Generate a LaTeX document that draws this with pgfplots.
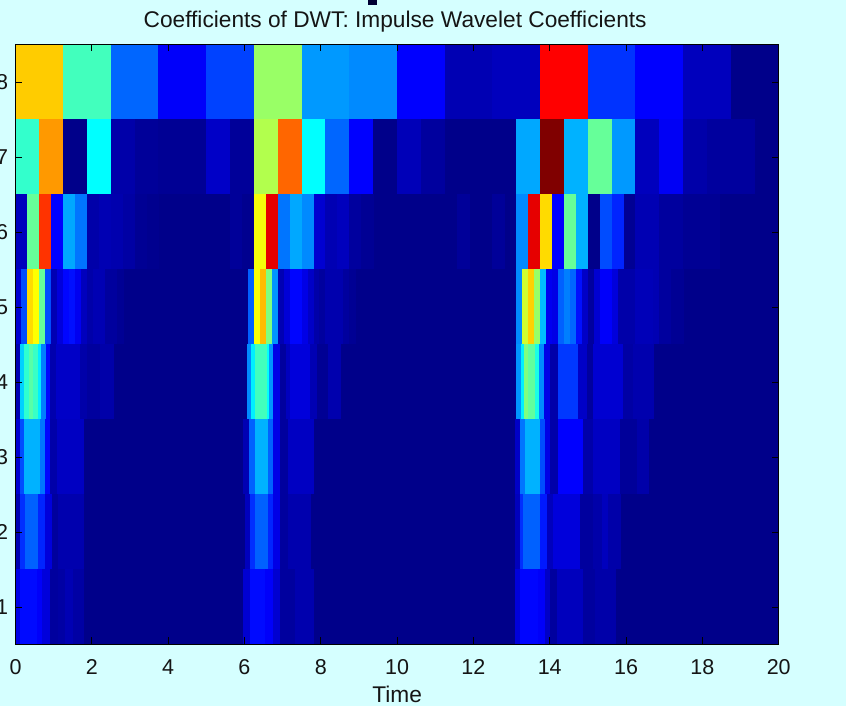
\documentclass[border=0pt]{standalone}
\usepackage{pgfplots}
\usepackage{pgfplotstable}
\usepackage{fontspec}
\setmainfont{Liberation Sans}
\pgfplotsset{compat=1.18}
\definecolor{pagebg}{HTML}{D5FFFF}
\definecolor{txt}{HTML}{151515}

% one coloured cell of the scalogram: left edge at the point, one level high
\pgfdeclareplotmark{cell}{%
  \pgfpathrectangle{\pgfpoint{0pt}{-37.5pt}}{\pgfpoint{\cellw pt}{75pt}}%
  \pgfusepathqfillstroke}

% x = left edge, w = cell width (both in time), c = coefficient 0..1
\pgfplotstableread{
x w c
0 1.25 .675
1.25 1.25 .44
2.5 1.25 .225
3.75 1.25 .12
5 1.25 .19
6.25 1.25 .525
7.5 1.25 .275
8.75 1.25 .26
10 1.25 .125
11.25 1.25 .05
12.5 1.25 .06
13.75 1.25 .875
15 1.25 .175
16.25 1.25 .125
17.5 1.25 .06
18.75 1.25 .01
}\leveleight
\pgfplotstableread{
x w c
0 .625 .425
.625 .625 .725
1.25 .625 .01
1.875 .625 .375
2.5 .625 .04
3.125 .625 .025
3.75 .625 .02
4.375 .625 .02
5 .625 .07
5.625 .625 .025
6.25 .625 .55
6.875 .625 .775
7.5 .625 .375
8.125 .625 .225
8.75 .625 .125
9.375 .625 .01
10 .625 .055
10.625 .625 .03
11.25 .625 .01
11.875 .625 .01
12.5 .625 .01
13.125 .625 .29
13.75 .625 1
14.375 .625 .3
15 .625 .475
15.625 .625 .275
16.25 .625 .06
16.875 .625 .115
17.5 .625 .04
18.125 .625 .03
18.75 .625 .03
19.375 .625 .01
}\levelseven
\pgfplotstableread{
x w c
0 20 .01
0 .3125 .06
.3125 .3125 .475
.625 .3125 .825
.9375 .3125 .125
1.25 .3125 .29
1.5625 .3125 .24
1.875 .3125 .04
2.1875 .3125 .05
2.5 .3125 .045
2.8125 .3125 .035
3.125 .3125 .02
3.4375 .3125 .015
5.625 .3125 .025
5.9375 .3125 .015
6.25 .3125 .615
6.5625 .3125 .9
6.875 .3125 .24
7.1875 .3125 .29
7.5 .3125 .26
7.8125 .3125 .08
8.125 .3125 .05
8.4375 .3125 .06
8.75 .3125 .03
9.0625 .3125 .02
11.5625 .3125 .025
12.5 .3125 .025
13.125 .3125 .26
13.4375 .3125 .9
13.75 .3125 .66
14.0625 .3125 .125
14.375 .3125 .475
14.6875 .3125 .3
15 .3125 .01
15.3125 .3125 .2
15.625 .3125 .16
15.9375 .3125 .02
16.25 .3125 .05
16.5625 .3125 .05
16.875 .3125 .03
17.1875 .3125 .03
17.5 .3125 .02
17.8125 .3125 .02
18.125 .3125 .02
}\levelsix
\pgfplotstableread{
x w c
0 20 .01
0 .15625 .08
.15625 .15625 .2
.3125 .15625 .66
.46875 .15625 .625
.625 .15625 .475
.78125 .15625 .2
.9375 .15625 .05
1.09375 .15625 .09
1.25 .15625 .13
1.40625 .15625 .14
1.5625 .15625 .11
1.71875 .15625 .06
1.875 .15625 .04
2.03125 .15625 .05
2.1875 .15625 .05
2.34375 .15625 .03
2.5 .15625 .03
2.65625 .15625 .02
6.09375 .15625 .22
6.25 .15625 .62
6.40625 .15625 .69
6.5625 .15625 .5
6.71875 .15625 .27
6.875 .15625 .05
7.03125 .15625 .085
7.1875 .15625 .13
7.34375 .15625 .13
7.5 .15625 .1
7.65625 .15625 .07
7.8125 .15625 .04
7.96875 .15625 .03
8.125 .15625 .045
8.28125 .15625 .045
8.4375 .15625 .045
8.59375 .15625 .03
8.75 .15625 .02
13.125 .15625 .26
13.28125 .15625 .58
13.4375 .15625 .67
13.59375 .15625 .525
13.75 .15625 .31
13.90625 .15625 .11
14.0625 .15625 .1
14.21875 .15625 .22
14.375 .15625 .25
14.53125 .15625 .225
14.6875 .15625 .14
14.84375 .15625 .07
15 .15625 .03
15.15625 .15625 .08
15.3125 .15625 .12
15.46875 .15625 .12
15.625 .15625 .09
15.78125 .15625 .04
15.9375 .15625 .04
16.09375 .15625 .04
16.25 .15625 .055
16.40625 .15625 .055
16.5625 .15625 .055
16.71875 .15625 .05
16.875 .15625 .03
17.03125 .15625 .03
17.1875 .15625 .02
17.34375 .15625 .02
}\levelfive
\pgfplotstableread{
x w c
0 20 .01
0 .118 .05
.118 .105 .33
.223 .131 .42
.354 .105 .46
.459 .131 .43
.59 .078 .36
.668 .131 .25
.799 .105 .13
.904 .157 .045
1.061 .629 .07
1.69 .184 .04
1.874 .341 .03
2.215 .34 .04
6.066 .105 .26
6.171 .105 .36
6.276 .314 .44
6.59 .053 .38
6.643 .105 .27
6.748 .183 .1
6.931 .157 .03
7.088 .105 .06
7.193 .524 .09
7.717 .183 .05
7.9 .289 .02
8.189 .314 .045
13.116 .131 .27
13.247 .078 .36
13.325 .105 .5
13.43 .184 .47
13.614 .105 .4
13.719 .131 .26
13.85 .157 .1
14.007 .21 .04
14.217 .524 .18
14.741 .236 .07
14.977 .157 .03
15.134 .786 .08
15.92 .262 .035
16.182 .524 .045
}\levelfour
\pgfplotstableread{
x w c
0 20 .01
0 .118 .08
.118 .105 .2
.223 .419 .3
.642 .131 .24
.773 .131 .13
.904 .184 .04
1.088 .681 .065
5.962 .157 .05
6.119 .157 .22
6.276 .341 .3
6.617 .131 .22
6.748 .183 .1
6.931 .21 .03
7.141 .655 .065
13.09 .131 .07
13.221 .131 .24
13.352 .393 .3
13.745 .131 .2
13.876 .131 .1
14.007 .21 .04
14.217 .655 .125
14.872 .262 .04
15.134 .707 .065
15.841 .446 .025
16.287 .289 .04
}\levelthree
\pgfplotstableread{
x w c
0 20 .01
0 .118 .05
.118 .131 .17
.249 .341 .22
.59 .183 .16
.773 .183 .09
.956 .158 .03
1.114 .655 .045
6.014 .131 .06
6.145 .131 .17
6.276 .341 .22
6.617 .131 .16
6.748 .183 .1
6.931 .21 .03
7.141 .576 .045
13.09 .131 .06
13.221 .078 .17
13.299 .446 .22
13.745 .183 .15
13.928 .158 .06
14.086 .707 .09
14.793 .341 .03
15.134 .236 .04
15.37 .157 .06
15.527 .314 .04
}\leveltwo
\pgfplotstableread{
x w c
0 20 .01
0 .118 .1
.118 .445 .135
.563 .131 .12
.694 .21 .09
.904 .21 .03
1.114 .183 .035
1.297 .21 .05
1.507 .262 .035
5.962 .183 .08
6.145 .393 .135
6.538 .21 .12
6.748 .183 .08
6.931 .393 .03
7.324 .472 .045
13.09 .131 .09
13.221 .472 .13
13.693 .183 .12
13.876 .131 .07
14.007 .183 .03
14.19 .682 .06
14.872 .314 .03
15.186 .524 .04
}\levelone

\begin{document}
\begin{tikzpicture}[x=1pt,y=1pt]
\path[use as bounding box] (0,0) rectangle (846,706);
\clip (0,0) rectangle (846,706);
\fill[pagebg] (0,0) rectangle (846,706);
% stem of a large heading cut off by the top edge of the image
\fill[black!80!blue] (368,701) rectangle (377,706);
\begin{axis}[
    at={(15.5pt,61.5pt)}, anchor=south west,
    scale only axis, width=763.2pt, height=600pt,
    xmin=0, xmax=20, ymin=0.5, ymax=8.5,
    xtick={0,2,...,20}, ytick={1,...,8},
    axis on top,
    clip marker paths=true,
    tick align=inside, major tick length=7pt,
    every tick/.style={black, line width=0.8pt},
    axis line style={black, line width=1.5pt},
    colormap/jet, point meta min=0, point meta max=1,
    font=\fontsize{22.7}{26}\selectfont,
    /pgf/number format/assume math mode=true,
    tick label style={text=txt, font=\fontsize{21.5}{24}\selectfont},
    xticklabel style={yshift=-11.5pt},
    yticklabel style={xshift=-4pt},
    title={Coefficients of DWT: Impulse Wavelet Coefficients},
    title style={text=txt, anchor=base, at={(0.5,1)}, yshift=11pt, xshift=-2pt},
    xlabel={Time},
    xlabel style={text=txt, anchor=base, at={(0.5,0)}, yshift=-58pt},
    cell/.style={
        scatter, only marks, mark=cell,
        scatter/use mapped color={draw=mapped color, fill=mapped color},
        mark options={line width=0.25pt},
        point meta=explicit,
        visualization depends on={38.16*\thisrow{w} \as \cellw},
    },
]
\addplot[cell] table[x=x, y expr=8, meta=c] {\leveleight};
\addplot[cell] table[x=x, y expr=7, meta=c] {\levelseven};
\addplot[cell] table[x=x, y expr=6, meta=c] {\levelsix};
\addplot[cell] table[x=x, y expr=5, meta=c] {\levelfive};
\addplot[cell] table[x=x, y expr=4, meta=c] {\levelfour};
\addplot[cell] table[x=x, y expr=3, meta=c] {\levelthree};
\addplot[cell] table[x=x, y expr=2, meta=c] {\leveltwo};
\addplot[cell] table[x=x, y expr=1, meta=c] {\levelone};
\end{axis}
\end{tikzpicture}
\end{document}
